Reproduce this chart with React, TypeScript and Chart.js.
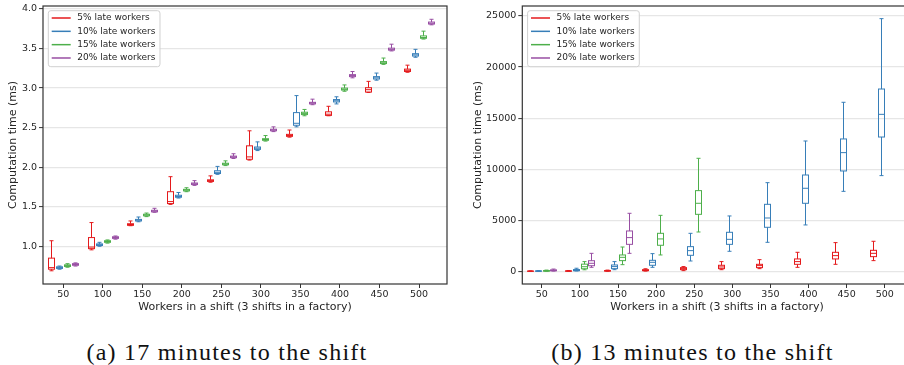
import React, { useEffect, useRef } from 'react';
import { Chart, registerables } from 'chart.js';

Chart.register(...registerables);

// ---------- data ----------
const categories = [50, 100, 150, 200, 250, 300, 350, 400, 450, 500];
const seriesLabels = ['5% late workers', '10% late workers', '15% late workers', '20% late workers'];
const seriesColors = ['#e41a1c', '#377eb8', '#4daf4a', '#984ea3'];
const seriesOffsets = [-15, -5, 5, 15];

const xTicks = [50, 100, 150, 200, 250, 300, 350, 400, 450, 500];
const yTicksA = [1.0, 1.5, 2.0, 2.5, 3.0, 3.5, 4.0];
const yTicksB = [0, 5000, 10000, 15000, 20000, 25000];

// each entry: [low whisker, q1, median, q3, high whisker]
// (a) 17 minutes to the shift
const a_late5 = [
  [0.69, 0.71, 0.73, 0.85, 1.07], [0.955, 0.97, 0.99, 1.11, 1.30], [1.26, 1.265, 1.275, 1.285, 1.32],
  [1.53, 1.54, 1.565, 1.69, 1.88], [1.81, 1.82, 1.83, 1.84, 1.89], [2.09, 2.10, 2.13, 2.27, 2.46],
  [2.38, 2.39, 2.40, 2.415, 2.47], [2.65, 2.655, 2.67, 2.70, 2.77], [2.945, 2.95, 2.98, 3.005, 3.085],
  [3.20, 3.21, 3.225, 3.24, 3.29],
];
const a_late10 = [
  [0.71, 0.72, 0.73, 0.74, 0.75], [1.0, 1.01, 1.02, 1.03, 1.05], [1.31, 1.32, 1.33, 1.34, 1.37],
  [1.61, 1.62, 1.63, 1.645, 1.68], [1.91, 1.92, 1.935, 1.955, 2.01], [2.21, 2.225, 2.24, 2.255, 2.32],
  [2.51, 2.53, 2.555, 2.69, 2.905], [2.80, 2.825, 2.84, 2.855, 2.89], [3.10, 3.115, 3.13, 3.145, 3.19],
  [3.39, 3.405, 3.42, 3.435, 3.49],
];
const a_late15 = [
  [0.735, 0.745, 0.755, 0.765, 0.78], [1.04, 1.05, 1.06, 1.07, 1.08], [1.375, 1.385, 1.395, 1.405, 1.42],
  [1.69, 1.70, 1.71, 1.72, 1.74], [2.02, 2.03, 2.04, 2.05, 2.08], [2.33, 2.34, 2.35, 2.36, 2.40],
  [2.65, 2.665, 2.68, 2.695, 2.73], [2.96, 2.975, 2.985, 3.0, 3.04], [3.30, 3.31, 3.32, 3.335, 3.38],
  [3.62, 3.63, 3.64, 3.66, 3.72],
];
const a_late20 = [
  [0.75, 0.76, 0.77, 0.78, 0.79], [1.09, 1.10, 1.11, 1.12, 1.13], [1.43, 1.435, 1.445, 1.455, 1.48],
  [1.77, 1.78, 1.79, 1.80, 1.83], [2.11, 2.12, 2.13, 2.14, 2.17], [2.45, 2.46, 2.47, 2.48, 2.51],
  [2.79, 2.80, 2.81, 2.82, 2.86], [3.13, 3.145, 3.16, 3.17, 3.21], [3.47, 3.48, 3.49, 3.505, 3.555],
  [3.80, 3.81, 3.82, 3.835, 3.87],
];

// (b) 13 minutes to the shift
const b_late5 = [
  [0, 5, 10, 20, 40], [5, 10, 20, 40, 80], [10, 25, 40, 70, 120], [20, 60, 100, 160, 250],
  [65, 160, 260, 360, 460], [160, 260, 425, 590, 950], [260, 360, 555, 685, 1140],
  [390, 685, 950, 1210, 1860], [685, 1210, 1535, 1860, 2810], [1045, 1436, 1760, 2055, 2940],
];
const b_late10 = [
  [5, 10, 20, 35, 60], [30, 60, 110, 170, 300], [160, 260, 460, 620, 950], [390, 590, 880, 1077, 1730],
  [1010, 1567, 2024, 2415, 3720], [1960, 2640, 3130, 3820, 5420], [2840, 4310, 5220, 6560, 8680],
  [4540, 6660, 8130, 9430, 12760], [7830, 9825, 11620, 12960, 16550], [9370, 13150, 15370, 17850, 24740],
];
const b_late15 = [
  [10, 20, 40, 70, 120], [150, 250, 450, 700, 950], [650, 1045, 1370, 1600, 2380],
  [1600, 2550, 3170, 3720, 5480], [3850, 5580, 6660, 7900, 11065], null, null, null, null, null,
];
const b_late20 = [
  [20, 50, 80, 140, 220], [390, 548, 783, 1038, 1760], [1760, 2640, 3300, 3950, 5680],
  null, null, null, null, null, null, null,
];

// ---------- styling ----------
const FONT = '"DejaVu Sans", sans-serif';
const BOX_W = 8; // box width in x units
const TEXT_COLOR = '#262626';

function buildDatasets(series: (number[] | null)[][]) {
  return series.map((stats, s) => ({
    label: seriesLabels[s],
    borderColor: seriesColors[s],
    backgroundColor: seriesColors[s],
    pointRadius: 0,
    showLine: false,
    data: categories
      .map((c, i) => (stats[i] ? { x: c + seriesOffsets[s], y: stats[i]![2], stats: stats[i] } : null))
      .filter(Boolean),
  }));
}

const boxPlugin = {
  id: 'boxDraw',
  afterDatasetsDraw(chart: any) {
    const { ctx } = chart;
    const xs = chart.scales.x;
    const ys = chart.scales.y;
    ctx.save();
    chart.data.datasets.forEach((ds: any) => {
      ctx.strokeStyle = ds.borderColor;
      ctx.lineWidth = 1;
      ds.data.forEach((pt: any) => {
        const [lo, q1, med, q3, hi] = pt.stats;
        const xc = Math.round(xs.getPixelForValue(pt.x)) + 0.5;
        const half = (xs.getPixelForValue(pt.x + BOX_W / 2) - xs.getPixelForValue(pt.x - BOX_W / 2)) / 2;
        const hw = Math.round(half);
        const cw = Math.round(half / 2);
        const yLo = ys.getPixelForValue(lo);
        const yQ1 = ys.getPixelForValue(q1);
        const yMed = ys.getPixelForValue(med);
        const yQ3 = ys.getPixelForValue(q3);
        const yHi = ys.getPixelForValue(hi);
        ctx.beginPath();
        // whiskers
        ctx.moveTo(xc, yQ1);
        ctx.lineTo(xc, yLo);
        ctx.moveTo(xc, yQ3);
        ctx.lineTo(xc, yHi);
        // caps
        ctx.moveTo(xc - cw, yLo);
        ctx.lineTo(xc + cw, yLo);
        ctx.moveTo(xc - cw, yHi);
        ctx.lineTo(xc + cw, yHi);
        // median
        ctx.moveTo(xc - hw, yMed);
        ctx.lineTo(xc + hw, yMed);
        ctx.stroke();
        ctx.strokeRect(xc - hw, yQ3, hw * 2, yQ1 - yQ3);
      });
    });
    ctx.restore();
  },
};

const framePlugin = {
  id: 'frame',
  afterDraw(chart: any) {
    const { ctx, chartArea: a } = chart;
    ctx.save();
    ctx.strokeStyle = '#333333';
    ctx.lineWidth = 1.2;
    ctx.strokeRect(a.left, a.top, a.right - a.left, a.bottom - a.top);
    ctx.restore();
  },
};

const legendPlugin = {
  id: 'innerLegend',
  afterDraw(chart: any) {
    const { ctx, chartArea: a } = chart;
    const x0 = a.left + 5.3;
    const y0 = a.top + 4.7;
    ctx.save();
    ctx.font = `9px ${FONT}`;
    const labels = chart.data.datasets.map((d: any) => d.label);
    const tw = Math.max(...labels.map((l: string) => ctx.measureText(l).width));
    const w = 29 + tw + 4.5;
    const h = 56;
    const r = 2.5;
    ctx.beginPath();
    ctx.moveTo(x0 + r, y0);
    ctx.lineTo(x0 + w - r, y0);
    ctx.arcTo(x0 + w, y0, x0 + w, y0 + r, r);
    ctx.lineTo(x0 + w, y0 + h - r);
    ctx.arcTo(x0 + w, y0 + h, x0 + w - r, y0 + h, r);
    ctx.lineTo(x0 + r, y0 + h);
    ctx.arcTo(x0, y0 + h, x0, y0 + h - r, r);
    ctx.lineTo(x0, y0 + r);
    ctx.arcTo(x0, y0, x0 + r, y0, r);
    ctx.closePath();
    ctx.fillStyle = 'rgba(255,255,255,0.85)';
    ctx.fill();
    ctx.strokeStyle = '#d0d0d0';
    ctx.lineWidth = 1;
    ctx.stroke();
    chart.data.datasets.forEach((d: any, i: number) => {
      const yy = y0 + 7.3 + i * 13.33;
      ctx.strokeStyle = d.borderColor;
      ctx.lineWidth = 1.5;
      ctx.beginPath();
      ctx.moveTo(x0 + 3.4, yy);
      ctx.lineTo(x0 + 22.4, yy);
      ctx.stroke();
      ctx.fillStyle = TEXT_COLOR;
      ctx.textBaseline = 'middle';
      ctx.textAlign = 'left';
      ctx.fillText(d.label, x0 + 29, yy);
    });
    ctx.restore();
  },
};

type PanelCfg = {
  yMin: number;
  yMax: number;
  yTicks: number[];
  yFmt: (v: number) => string;
  yAxisWidth: number;
  yTitlePad: number;
  padRight: number;
};

function makeOptions(p: PanelCfg): any {
  return {
    responsive: false,
    animation: false,
    devicePixelRatio: 1,
    events: [],
    layout: { padding: { top: 6, right: p.padRight, left: 0, bottom: 0 } },
    plugins: { legend: { display: false }, tooltip: { enabled: false } },
    scales: {
      x: {
        type: 'linear',
        min: 24.4,
        max: 535.4,
        afterBuildTicks: (sc: any) => {
          sc.ticks = xTicks.map((v) => ({ value: v }));
        },
        afterFit: (sc: any) => {
          sc.height = 36;
          sc.paddingLeft = 0;
          sc.paddingRight = 0;
        },
        ticks: {
          callback: (v: number) => String(v),
          font: { family: FONT, size: 9.5 },
          color: TEXT_COLOR,
          padding: 1,
          maxRotation: 0,
          autoSkip: false,
        },
        grid: { display: true, drawOnChartArea: false, drawTicks: true, tickLength: 4, tickColor: '#333333', tickWidth: 1 },
        border: { display: false },
        title: {
          display: true,
          text: 'Workers in a shift (3 shifts in a factory)',
          font: { family: FONT, size: 11 },
          color: TEXT_COLOR,
          padding: { top: 0, bottom: 6.4 },
        },
      },
      y: {
        type: 'linear',
        min: p.yMin,
        max: p.yMax,
        afterBuildTicks: (sc: any) => {
          sc.ticks = p.yTicks.map((v) => ({ value: v }));
        },
        afterFit: (sc: any) => {
          sc.width = p.yAxisWidth;
          sc.paddingTop = 0;
          sc.paddingBottom = 0;
        },
        ticks: {
          callback: (v: number) => p.yFmt(v),
          font: { family: FONT, size: 9.5 },
          color: TEXT_COLOR,
          padding: 2,
        },
        grid: { display: true, drawOnChartArea: true, color: '#e6e6e6', lineWidth: 1.2, drawTicks: true, tickLength: 4, tickColor: '#333333', tickWidth: 1 },
        border: { display: false },
        title: {
          display: true,
          text: 'Computation time (ms)',
          font: { family: FONT, size: 11 },
          color: TEXT_COLOR,
          padding: { top: p.yTitlePad, bottom: 0 },
        },
      },
    },
  };
}

const panelA: PanelCfg = {
  yMin: 0.523,
  yMax: 4.038,
  yTicks: yTicksA,
  yFmt: (v) => v.toFixed(1),
  yAxisWidth: 43,
  yTitlePad: 6.4,
  padRight: 3,
};
const panelB: PanelCfg = {
  yMin: -1243,
  yMax: 25979,
  yTicks: yTicksB,
  yFmt: (v) => String(v),
  yAxisWidth: 72.3,
  yTitlePad: 21.4,
  padRight: 3.3,
};

function BoxChart(props: { series: (number[] | null)[][]; cfg: PanelCfg; left: number; width: number }) {
  const ref = useRef<HTMLCanvasElement | null>(null);
  useEffect(() => {
    const chart = new Chart(ref.current as HTMLCanvasElement, {
      type: 'scatter',
      data: { datasets: buildDatasets(props.series) as any },
      options: makeOptions(props.cfg),
      plugins: [boxPlugin, framePlugin, legendPlugin],
    });
    return () => chart.destroy();
  }, []);
  return (
    <canvas
      ref={ref}
      width={props.width}
      height={320}
      style={{ position: 'absolute', left: props.left, top: 0, width: props.width, height: 320 }}
    />
  );
}

const captionStyle: React.CSSProperties = {
  position: 'absolute',
  top: 340,
  height: 26,
  lineHeight: '24px',
  fontFamily: '"Liberation Serif", serif',
  fontSize: 24,
  letterSpacing: '1.25px',
  textAlign: 'center',
  color: '#111',
  whiteSpace: 'nowrap',
};

export default function App() {
  return (
    <div
      style={{
        position: 'absolute',
        left: 0,
        top: 0,
        width: 904,
        height: 365,
        overflow: 'hidden',
        background: '#ffffff',
      }}
    >
      <BoxChart series={[a_late5, a_late10, a_late15, a_late20]} cfg={panelA} left={0} width={450} />
      <BoxChart series={[b_late5, b_late10, b_late15, b_late20]} cfg={panelB} left={450} width={465} />
      <div style={{ ...captionStyle, left: 0, width: 454 }}>(a) 17 minutes to the shift</div>
      <div style={{ ...captionStyle, left: 481, width: 423 }}>(b) 13 minutes to the shift</div>
    </div>
  );
}
